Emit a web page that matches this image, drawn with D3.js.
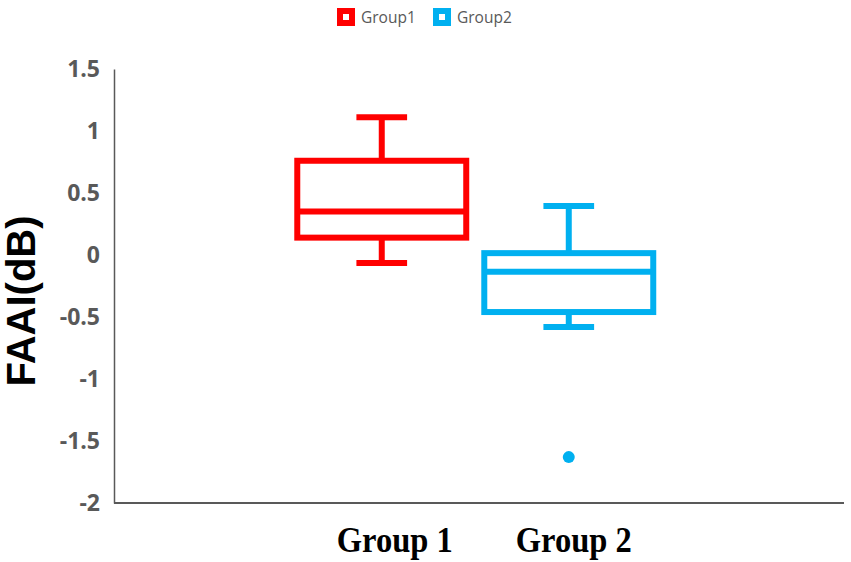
<!DOCTYPE html>
<html>
<head>
<meta charset="utf-8">
<script src="https://cdn.jsdelivr.net/npm/d3@7"></script>
<style>
  html, body { margin: 0; padding: 0; background: #fff; }
  svg { display: block; }
</style>
</head>
<body>
<svg id="chart" width="851" height="562"></svg>
<script>
const categories = ["Group 1", "Group 2"];
const seriesNames = ["Group1", "Group2"];
const colors = ["#FF0000", "#00B0F0"];
const whiskerLow = [-0.065, -0.58];
const q1 = [0.14, -0.46];
const median = [0.35, -0.135];
const q3 = [0.76, 0.015];
const whiskerHigh = [1.11, 0.395];
const outliers = [[], [-1.63]];
const yTicks = [1.5, 1, 0.5, 0, -0.5, -1, -1.5, -2];
const yTitle = "FAAI(dB)";

const svg = d3.select("#chart");
const plot = { left: 114, right: 844, top: 69, bottom: 503 };

const y = d3.scaleLinear().domain([-2, 1.5]).range([plot.bottom, plot.top]);
const x = d3.scaleBand().domain(categories)
  .range([plot.left, plot.right])
  .paddingInner(0.0965).paddingOuter(1.0).align(0.49);

// Axes
const yAxis = d3.axisLeft(y).tickValues(yTicks).tickSize(0).tickPadding(14)
  .tickFormat(d => String(d));
const gy = svg.append("g").attr("transform", `translate(${plot.left},0)`).call(yAxis);
gy.select(".domain").attr("stroke", "#595959").attr("stroke-width", 1.5);
gy.selectAll("text").attr("font-family", "'Open Sans', sans-serif")
  .attr("font-weight", "bold").attr("font-size", 23).attr("fill", "#595959");

svg.append("line")
  .attr("x1", plot.left).attr("x2", plot.right)
  .attr("y1", plot.bottom).attr("y2", plot.bottom)
  .attr("stroke", "#595959").attr("stroke-width", 2);

// Y title
svg.append("text")
  .attr("transform", `translate(35,301) rotate(-90)`)
  .attr("text-anchor", "middle")
  .attr("font-family", "'Liberation Sans', Arial, sans-serif")
  .attr("font-weight", "bold").attr("font-size", 40).attr("fill", "#000")
  .text(yTitle);

// Category labels
const labelShift = [13, 5];
categories.forEach((c, i) => {
  svg.append("text")
    .attr("x", x(c) + x.bandwidth() / 2 + labelShift[i] - 58)
    .attr("y", 552)
    .attr("textLength", 116).attr("lengthAdjust", "spacingAndGlyphs")
    .attr("font-family", "'Liberation Serif', 'Times New Roman', serif")
    .attr("font-weight", "bold").attr("font-size", 35).attr("fill", "#000")
    .text(c);
});

// Boxes
const sw = 6;
categories.forEach((c, i) => {
  const g = svg.append("g");
  const bx = x(c), bw = x.bandwidth(), cx = bx + bw / 2;
  const capW = bw * 0.3;
  const col = colors[i];
  g.append("line").attr("x1", cx).attr("x2", cx)
    .attr("y1", y(q3[i])).attr("y2", y(whiskerHigh[i]))
    .attr("stroke", col).attr("stroke-width", sw);
  g.append("line").attr("x1", cx).attr("x2", cx)
    .attr("y1", y(q1[i])).attr("y2", y(whiskerLow[i]))
    .attr("stroke", col).attr("stroke-width", sw);
  g.append("line").attr("x1", cx - capW / 2).attr("x2", cx + capW / 2)
    .attr("y1", y(whiskerHigh[i])).attr("y2", y(whiskerHigh[i]))
    .attr("stroke", col).attr("stroke-width", sw);
  g.append("line").attr("x1", cx - capW / 2).attr("x2", cx + capW / 2)
    .attr("y1", y(whiskerLow[i])).attr("y2", y(whiskerLow[i]))
    .attr("stroke", col).attr("stroke-width", sw);
  g.append("rect").attr("x", bx).attr("width", bw)
    .attr("y", y(q3[i])).attr("height", y(q1[i]) - y(q3[i]))
    .attr("fill", "#fff").attr("stroke", col).attr("stroke-width", sw);
  g.append("line").attr("x1", bx).attr("x2", bx + bw)
    .attr("y1", y(median[i])).attr("y2", y(median[i]))
    .attr("stroke", col).attr("stroke-width", sw);
  g.selectAll("circle.out").data(outliers[i]).enter().append("circle")
    .attr("cx", cx).attr("cy", d => y(d)).attr("r", 6).attr("fill", col);
});

// Legend
const legX = [337, 433];
seriesNames.forEach((s, i) => {
  svg.append("rect").attr("x", legX[i] + 3).attr("y", 8 + 3)
    .attr("width", 12).attr("height", 12)
    .attr("fill", "#fff").attr("stroke", colors[i]).attr("stroke-width", 6);
  svg.append("text").attr("x", legX[i] + 24).attr("y", 23)
    .attr("font-family", "'Open Sans', sans-serif").attr("font-size", 15.5)
    .attr("fill", "#595959").text(s);
});
</script>
</body>
</html>
